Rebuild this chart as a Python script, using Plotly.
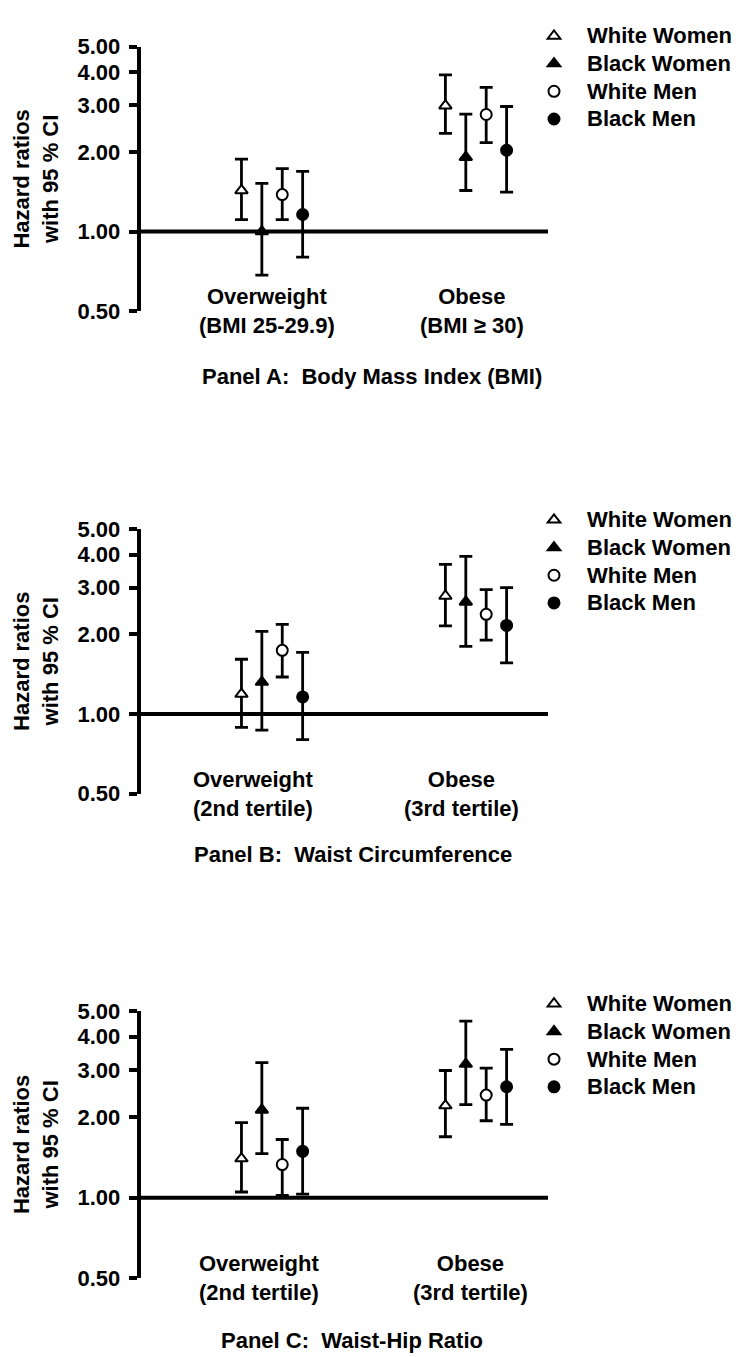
import math
import plotly.graph_objects as go

# ---------------- data ----------------
groups = ["White Women", "Black Women", "White Men", "Black Men"]
categories = ["Overweight", "Obese"]
group_offsets = [-0.15, -0.05, 0.05, 0.15]
reference_hr = 1.0

tick_values = [0.5, 1, 2, 3, 4, 5]
tick_labels = ["0.50", "1.00", "2.00", "3.00", "4.00", "5.00"]

# Panel A: Body Mass Index
a_hr_ow = [1.43, 1.00, 1.38, 1.16]
a_lo_ow = [1.11, 0.685, 1.11, 0.80]
a_hi_ow = [1.88, 1.52, 1.73, 1.69]
a_hr_ob = [2.99, 1.91, 2.77, 2.03]
a_lo_ob = [2.35, 1.43, 2.17, 1.41]
a_hi_ob = [3.91, 2.78, 3.51, 2.97]

# Panel B: Waist Circumference
b_hr_ow = [1.19, 1.32, 1.74, 1.16]
b_lo_ow = [0.89, 0.87, 1.38, 0.80]
b_hi_ow = [1.61, 2.05, 2.18, 1.71]
b_hr_ob = [2.79, 2.65, 2.38, 2.16]
b_lo_ob = [2.15, 1.80, 1.90, 1.56]
b_hi_ob = [3.67, 3.94, 2.95, 3.00]

# Panel C: Waist-Hip Ratio
c_hr_ow = [1.40, 2.13, 1.33, 1.49]
c_lo_ow = [1.05, 1.46, 1.02, 1.03]
c_hi_ow = [1.91, 3.20, 1.65, 2.16]
c_hr_ob = [2.21, 3.16, 2.42, 2.60]
c_lo_ob = [1.69, 2.23, 1.94, 1.88]
c_hi_ob = [2.99, 4.58, 3.05, 3.59]

panel_titles = ["Panel A:\u00a0 Body Mass Index (BMI)",
                "Panel B:\u00a0 Waist Circumference",
                "Panel C:\u00a0 Waist-Hip Ratio"]
ow_labels = ["Overweight<br>(BMI 25-29.9)", "Overweight<br>(2nd tertile)", "Overweight<br>(2nd tertile)"]
ob_labels = ["Obese<br>(BMI \u2265 30)", "Obese<br>(3rd tertile)", "Obese<br>(3rd tertile)"]

# ---------------- style / layout ----------------
W, H = 741, 1357
FONT = "Liberation Sans, Arial, sans-serif"
symbols = ["triangle-up", "triangle-up", "circle", "circle"]
fills = ["white", "black", "white", "black"]

panel_data = [
    (a_hr_ow, a_lo_ow, a_hi_ow, a_hr_ob, a_lo_ob, a_hi_ob),
    (b_hr_ow, b_lo_ow, b_hi_ow, b_hr_ob, b_lo_ob, b_hi_ob),
    (c_hr_ow, c_lo_ow, c_hi_ow, c_hr_ob, c_lo_ob, c_hi_ob),
]
# pixel geometry (top of axis = 5.00, bottom of axis = 0.50)
axis_px = [(27, 296.7), (518.3, 788.3), (1009.3, 1281.7)]
legend_top_px = [-3, 490, 983]
title_px = [(363.5, 363.3), (344.5, 850), (343.5, 1345)]
ow_label_x = [0.975, 0.906, 0.936]
ob_label_x = [1.98, 1.929, 1.975]

x_dom = [132.5 / W, 540 / W]
x_rng = [0.355, 2.353]

fig = go.Figure()
annotations = []
layout = dict(width=W, height=H, margin=dict(l=0, r=0, t=0, b=0),
              paper_bgcolor="white", plot_bgcolor="white",
              font=dict(family=FONT, size=22, color="black"),
              showlegend=True)

for p in range(3):
    sfx = "" if p == 0 else str(p + 1)
    hr_ow, lo_ow, hi_ow, hr_ob, lo_ob, hi_ob = panel_data[p]
    # reference line at HR = 1
    fig.add_trace(go.Scatter(
        x=x_rng, y=[reference_hr, reference_hr], mode="lines",
        line=dict(color="black", width=4), showlegend=False, hoverinfo="skip",
        xaxis="x" + sfx, yaxis="y" + sfx))
    for g in range(4):
        y = [hr_ow[g], hr_ob[g]]
        up = [hi_ow[g] - hr_ow[g], hi_ob[g] - hr_ob[g]]
        dn = [hr_ow[g] - lo_ow[g], hr_ob[g] - lo_ob[g]]
        fig.add_trace(go.Scatter(
            x=[1 + group_offsets[g], 2 + group_offsets[g]], y=y,
            mode="markers",
            name='<span style="font-size:22px">' + groups[g] + '</span>',
            legend="legend" + sfx,
            xaxis="x" + sfx, yaxis="y" + sfx,
            marker=dict(symbol=symbols[g], size=11, color=fills[g],
                        line=dict(color="black", width=2)),
            error_y=dict(type="data", symmetric=False, array=up, arrayminus=dn,
                         color="black", thickness=2.8, width=6.5),
        ))
    top_px, bot_px = axis_px[p]
    y_dom = [1 - bot_px / H, 1 - top_px / H]
    layout["xaxis" + sfx] = dict(domain=x_dom, range=x_rng, visible=False,
                                 anchor="y" + sfx, fixedrange=True)
    layout["yaxis" + sfx] = dict(
        domain=y_dom, type="log",
        range=[math.log10(tick_values[0]), math.log10(tick_values[-1]) + 0.0005],
        anchor="x" + sfx, showline=True, linecolor="black", linewidth=3.5,
        ticks="outside", ticklen=8, tickwidth=3.5, tickcolor="black",
        tickvals=tick_values, ticktext=tick_labels, ticklabelstandoff=4,
        tickfont=dict(family=FONT, size=22, weight="bold", color="black"),
        showgrid=False, zeroline=False,
        title=dict(text="Hazard ratios<br>with 95 % CI", standoff=14,
                   font=dict(family=FONT, size=22, weight="bold", color="black")),
    )
    layout["legend" + sfx] = dict(
        x=513 / W, xanchor="left", y=1 - legend_top_px[p] / H, yanchor="top",
        bgcolor="rgba(0,0,0,0)", itemwidth=56, tracegroupgap=0,
        font=dict(family=FONT, size=19, weight="bold", color="black"),
    )
    annotations.append(dict(xref="x" + sfx, x=ow_label_x[p], yref="y" + sfx + " domain", y=0,
                            yanchor="middle", showarrow=False,
                            text="<b>" + ow_labels[p] + "</b>",
                            font=dict(family=FONT, size=22, color="black")))
    annotations.append(dict(xref="x" + sfx, x=ob_label_x[p], yref="y" + sfx + " domain", y=0,
                            yanchor="middle", showarrow=False,
                            text="<b>" + ob_labels[p] + "</b>",
                            font=dict(family=FONT, size=22, color="black")))
    tx, ty = title_px[p]
    annotations.append(dict(xref="paper", x=tx / W, yref="paper", y=1 - ty / H,
                            xanchor="center", yanchor="middle", showarrow=False,
                            text="<b>" + panel_titles[p] + "</b>",
                            font=dict(family=FONT, size=22, color="black")))

layout["annotations"] = annotations
fig.update_layout(**layout)
fig.write_html("out.html")
